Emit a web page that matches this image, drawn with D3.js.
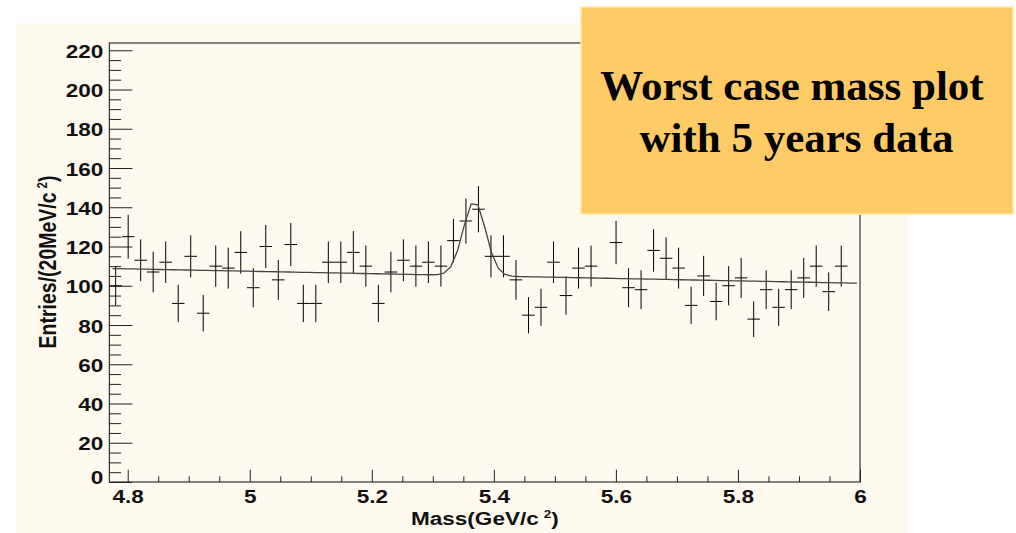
<!DOCTYPE html>
<html>
<head>
<meta charset="utf-8">
<script src="https://cdn.jsdelivr.net/npm/d3@7"></script>
<style>
  html, body { margin: 0; padding: 0; background: #ffffff; }
  svg { display: block; }
  .lbl { font-family: "Liberation Sans", Arial, Helvetica, sans-serif; font-weight: bold; font-size: 18.5px; fill: #111; }
</style>
</head>
<body>
<svg id="chart" width="1016" height="533"></svg>
<script>
// Histogram: B candidate invariant mass, 60 bins of ~20 MeV/c^2
const histMin = 4.77;
const histMax = 6.0;
const nBins = 60;
const counts = [
  100, 125, 113, 107, 112,  91, 115,  86, 110, 109,
  117,  99, 120, 103, 121,  91,  91, 112, 112, 117,
  110,  91, 107, 113, 110, 112, 110, 123, 133, 139,
  115, 115, 103,  85,  89, 112,  95, 109, 110,   0,
  122,  99,  98, 118, 114, 109,  90, 105,  92, 100,
  104,  83,  98,  89,  98, 104, 110,  97, 110,   0
];

// Fit: linear background + Gaussian signal
const fitRange = [4.775, 5.995];
const bkgIntercept = 137.99;
const bkgSlope = -6.12;
const peakAmp = 38;
const peakMean = 5.368;
const peakSigma = 0.0185;
const fitPoints = 110;

// Axis ticks
const xMajorTicks = [4.8, 5.0, 5.2, 5.4, 5.6, 5.8, 6.0];
const yMajorTicks = [0, 20, 40, 60, 80, 100, 120, 140, 160, 180, 200, 220];
const yMax = 223.7;

const xTitle = "Mass(GeV/c";
const yTitle = "Entries/(20MeV/c";
const noteLines = ["Worst case mass plot", "with 5 years data"];

const svg = d3.select("#chart");

// pad background
svg.append("rect").attr("x", 16).attr("y", 23).attr("width", 892).attr("height", 510)
  .attr("fill", "#FFFAF0");

const L = 109.4, R = 860, T = 43, B = 482;
const x = d3.scaleLinear().domain([histMin, histMax]).range([L, R]);
const y = d3.scaleLinear().domain([0, yMax]).range([B, T]);

const sx = 1.22; // horizontal stretch of axis lettering

// frame
svg.append("rect").attr("x", L).attr("y", T).attr("width", R - L).attr("height", B - T)
  .attr("fill", "none").attr("stroke", "#333").attr("stroke-width", 1.2);

// y axis: minor and major ticks
const yMinor = d3.range(0, yMax, 5).filter(v => v % 20 !== 0);
svg.append("g").attr("transform", `translate(${L},0)`)
  .call(d3.axisLeft(y).tickValues(yMinor).tickSize(-11.7).tickFormat(""))
  .call(g => g.select(".domain").remove())
  .selectAll("line").attr("stroke", "#222").attr("stroke-width", 1);

const gy = svg.append("g").attr("transform", `translate(${L},0)`)
  .call(d3.axisLeft(y).tickValues(yMajorTicks).tickSize(-23).tickPadding(6).tickFormat(d3.format("d")))
  .call(g => g.select(".domain").remove());
gy.selectAll("line").attr("stroke", "#222").attr("stroke-width", 1);
gy.selectAll("text")
  .attr("class", "lbl")
  .attr("x", null).attr("dy", null)
  .attr("transform", d => `translate(-6,${d === 0 ? 1.5 : 7}) scale(${sx},1)`)
  .attr("text-anchor", "end");

// x axis: minor and major ticks
const xMinor = d3.range(4.8, 6.001, 0.05).filter(v => Math.abs(v * 5 - Math.round(v * 5)) > 1e-6);
svg.append("g").attr("transform", `translate(0,${B})`)
  .call(d3.axisBottom(x).tickValues(xMinor).tickSize(-5.7).tickFormat(""))
  .call(g => g.select(".domain").remove())
  .selectAll("line").attr("stroke", "#222").attr("stroke-width", 1);

const gx = svg.append("g").attr("transform", `translate(0,${B})`)
  .call(d3.axisBottom(x).tickValues(xMajorTicks).tickSize(-12.3).tickFormat(d => String(+d.toFixed(1))))
  .call(g => g.select(".domain").remove());
gx.selectAll("line").attr("stroke", "#222").attr("stroke-width", 1);
gx.selectAll("text")
  .attr("class", "lbl")
  .attr("y", null).attr("dy", null)
  .attr("transform", `translate(0,20.7) scale(${sx},1)`)
  .attr("text-anchor", "middle");

// axis titles
const xt = svg.append("text").attr("class", "lbl")
  .attr("transform", `translate(484.8,525) scale(${sx},1)`)
  .attr("text-anchor", "middle");
xt.append("tspan").text(xTitle);
xt.append("tspan").attr("dx", 4).attr("dy", -7).style("font-size", "11px").text("2");
xt.append("tspan").attr("dy", 7).text(")");

const yt = svg.append("text").attr("class", "lbl")
  .attr("transform", `translate(56,262) scale(${sx},1) rotate(-90)`)
  .attr("text-anchor", "middle")
  .style("font-size", "19.5px");
yt.append("tspan").text(yTitle);
yt.append("tspan").attr("dx", 4).attr("dy", -7).style("font-size", "11.5px").text("2");
yt.append("tspan").attr("dy", 7).text(")");

// data points with sqrt(N) errors and bin-width bars
const bw = (histMax - histMin) / nBins;
const bins = counts.map((c, i) => ({ lo: histMin + i * bw, hi: histMin + (i + 1) * bw, mid: histMin + (i + 0.5) * bw, c }))
  .filter(d => d.c > 0);
const pts = svg.append("g").attr("stroke", "#000").attr("stroke-width", 1);
pts.selectAll("line.v").data(bins).join("line").attr("class", "v")
  .attr("x1", d => x(d.mid)).attr("x2", d => x(d.mid))
  .attr("y1", d => y(d.c - Math.sqrt(d.c))).attr("y2", d => y(d.c + Math.sqrt(d.c)));
pts.selectAll("line.h").data(bins).join("line").attr("class", "h")
  .attr("x1", d => x(d.lo)).attr("x2", d => x(d.hi))
  .attr("y1", d => y(d.c)).attr("y2", d => y(d.c));

// fit curve
const fitFn = m => bkgIntercept + bkgSlope * m + peakAmp * Math.exp(-0.5 * Math.pow((m - peakMean) / peakSigma, 2));
const fitData = d3.range(fitPoints + 1).map(k => fitRange[0] + k * (fitRange[1] - fitRange[0]) / fitPoints);
svg.append("path").datum(fitData)
  .attr("fill", "none").attr("stroke", "#444").attr("stroke-width", 1.3)
  .attr("d", d3.line().x(m => x(m)).y(m => y(fitFn(m))));

// annotation box
svg.append("rect").attr("x", 581).attr("y", 7).attr("width", 432).attr("height", 207)
  .attr("fill", "#FECB66").attr("stroke", "#FFE9A8").attr("stroke-width", 1.5);
svg.append("g").selectAll("text").data(noteLines).join("text")
  .attr("x", (d, i) => i === 0 ? 792 : 796.5)
  .attr("y", (d, i) => 100 + i * 52)
  .attr("text-anchor", "middle")
  .style("font-family", "'Liberation Serif', 'Times New Roman', serif")
  .style("font-weight", "bold").style("font-size", "43px").style("fill", "#000")
  .text(d => d);
</script>
</body>
</html>
